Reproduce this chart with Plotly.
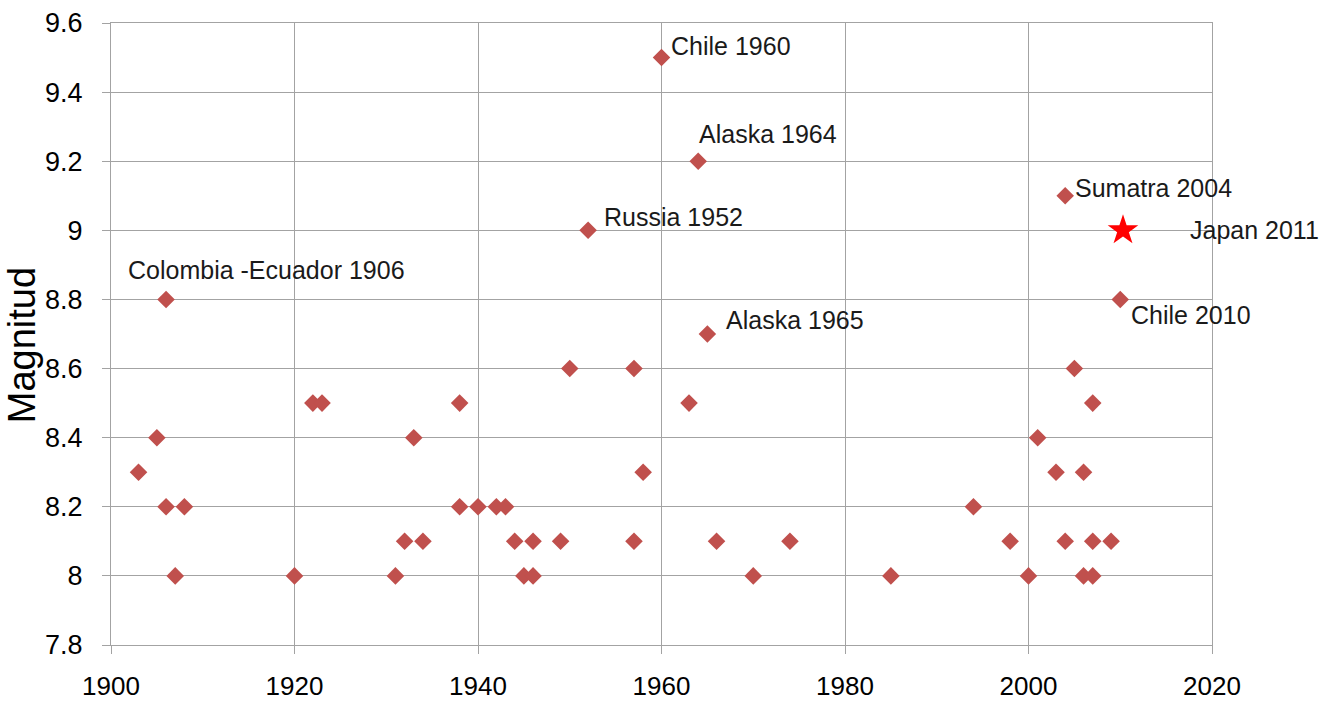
import plotly.graph_objects as go

# ---- data ----
years = [1903, 1905, 1906, 1906, 1907, 1908, 1920, 1922, 1923, 1931, 1932, 1933, 1934,
         1938, 1938, 1940, 1942, 1943, 1944, 1945, 1946, 1946, 1949, 1950, 1952, 1957,
         1957, 1958, 1960, 1963, 1964, 1965, 1966, 1970, 1974, 1985, 1994, 1998, 2000,
         2001, 2003, 2004, 2004, 2005, 2006, 2006, 2007, 2007, 2007, 2009, 2010]
magnitudes = [8.3, 8.4, 8.2, 8.8, 8.0, 8.2, 8.0, 8.5, 8.5, 8.0, 8.1, 8.4, 8.1,
              8.5, 8.2, 8.2, 8.2, 8.2, 8.1, 8.0, 8.0, 8.1, 8.1, 8.6, 9.0, 8.6,
              8.1, 8.3, 9.5, 8.5, 9.2, 8.7, 8.1, 8.0, 8.1, 8.0, 8.2, 8.1, 8.0,
              8.4, 8.3, 8.1, 9.1, 8.6, 8.3, 8.0, 8.5, 8.1, 8.0, 8.1, 8.8]

star_year = [2010.3]
star_mag = [9.0]

label_texts = ["Colombia -Ecuador 1906", "Chile 1960", "Alaska 1964", "Russia 1952",
               "Alaska 1965", "Sumatra 2004", "Japan 2011", "Chile 2010"]
label_years = [1906, 1960, 1964, 1952, 1965, 2004, 2010.3, 2010]
label_mags = [8.8, 9.5, 9.2, 9.0, 8.7, 9.1, 9.0, 8.8]

x_ticks = [1900, 1920, 1940, 1960, 1980, 2000, 2020]
y_ticks = [7.8, 8.0, 8.2, 8.4, 8.6, 8.8, 9.0, 9.2, 9.4, 9.6]
y_tick_text = ["7.8", "8", "8.2", "8.4", "8.6", "8.8", "9", "9.2", "9.4", "9.6"]

# ---- styles / label offsets (pixels) ----
label_dx = [-40, 7, -1, 14, 17, 8, 65, 9]
label_dy = [29, 12, 27, 13, 14, 8, 0, -16]

grid_col = "#a3a3a3"
font_fam = "Arial, Liberation Sans, sans-serif"

fig = go.Figure()
fig.add_trace(go.Scatter(
    x=years, y=magnitudes, mode="markers",
    marker=dict(symbol="diamond", size=13.5, color="#C0504D"),
    cliponaxis=False, showlegend=False, hoverinfo="x+y"))
fig.add_trace(go.Scatter(
    x=star_year, y=star_mag, mode="markers",
    marker=dict(symbol="star", size=23, color="#FF0000"),
    cliponaxis=False, showlegend=False, hoverinfo="x+y"))

for t, xv, yv, dx, dy in zip(label_texts, label_years, label_mags, label_dx, label_dy):
    fig.add_annotation(x=xv, y=yv, xref="x", yref="y", text=t, showarrow=False,
                       xanchor="left", yanchor="middle", xshift=dx, yshift=dy,
                       font=dict(family=font_fam, size=25, color="#1a1a1a"))

fig.add_annotation(text="Magnitud", xref="paper", yref="paper", x=0, y=0.482,
                   xanchor="center", yanchor="middle", xshift=-89, textangle=-90,
                   showarrow=False,
                   font=dict(family=font_fam, size=38, color="#000000"))

fig.update_layout(
    width=1334, height=704,
    margin=dict(l=111, r=122, t=23, b=59, autoexpand=False),
    paper_bgcolor="white", plot_bgcolor="white",
    font=dict(family=font_fam, color="#000000"),
    xaxis=dict(range=[1900, 2020], tickvals=x_ticks, ticktext=[str(v) for v in x_ticks],
               showgrid=True, gridcolor=grid_col, gridwidth=1,
               showline=True, linecolor=grid_col, linewidth=1, mirror=True,
               ticks="outside", ticklen=8, tickcolor=grid_col,
               ticklabelstandoff=10, automargin=False,
               tickfont=dict(size=26), zeroline=False, fixedrange=True),
    yaxis=dict(range=[7.8, 9.6], tickvals=y_ticks, ticktext=y_tick_text,
               showgrid=True, gridcolor=grid_col, gridwidth=1,
               showline=True, linecolor=grid_col, linewidth=1, mirror=True,
               ticks="outside", ticklen=8, tickcolor=grid_col,
               ticklabelstandoff=14, automargin=False,
               tickfont=dict(size=27), zeroline=False, fixedrange=True),
)

fig.write_html("out.html",
               config={"displayModeBar": False},
               post_script="document.body.style.margin='0px';"
                           "document.body.style.overflow='hidden';")
